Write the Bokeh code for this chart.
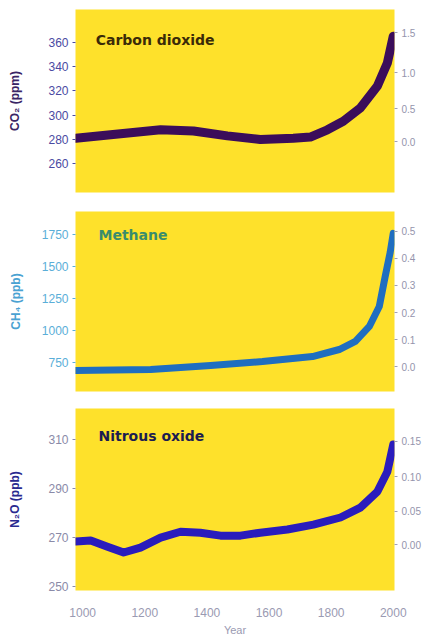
import math
from bokeh.plotting import figure
from bokeh.layouts import column
from bokeh.models import Range1d, LinearAxis, FixedTicker, CustomJSTickFormatter, Label
from bokeh.embed import file_html
from bokeh.resources import INLINE

# ---- data ----
years_co2 = [978, 1090, 1251, 1357, 1466, 1572, 1678, 1733, 1788, 1839, 1894, 1949, 1981, 2000]
co2_ppm = [281, 284, 288, 287, 283, 280, 281, 282, 288, 295, 306, 324, 343, 365]

years_ch4 = [978, 1219, 1412, 1579, 1740, 1826, 1878, 1923, 1955, 1974, 1990, 2000]
ch4_ppb = [689, 697, 728, 759, 798, 853, 916, 1033, 1189, 1423, 1611, 1760]

years_n2o = [978, 1026, 1080, 1132, 1186, 1251, 1315, 1379, 1444, 1508, 1572, 1659,
             1743, 1830, 1894, 1949, 1981, 2000]
n2o_ppb = [268.4, 268.8, 266.3, 263.9, 265.9, 270.0, 272.4, 272.0, 270.8, 270.8, 272.0,
           273.3, 275.3, 278.2, 282.2, 288.8, 296.9, 308.0]

year_ticks = [1000, 1200, 1400, 1600, 1800, 2000]
co2_ticks = [260, 280, 300, 320, 340, 360]
ch4_ticks = [750, 1000, 1250, 1500, 1750]
n2o_ticks = [250, 270, 290, 310]
co2_forcing_ticks = [0.0, 0.5, 1.0, 1.5]
ch4_forcing_ticks = [0.0, 0.1, 0.2, 0.3, 0.4, 0.5]
n2o_forcing_ticks = [0.0, 0.05, 0.10, 0.15]

panel_titles = ["Carbon dioxide", "Methane", "Nitrous oxide"]
axis_titles = ["CO\u2082 (ppm)", "CH\u2084 (ppb)", "N\u2082O (ppb)"]
x_title = "Year"

YELLOW = "#FEE12B"
FONT = "Liberation Sans"
X_RANGE = (977, 2004)


def make_panel(xs, ys, yrange, yticks, line_color, line_width, title, title_color,
               title_pos, axis_title, tick_color, title_axis_color, label_standoff,
               frame_h, b_top, b_bottom, right_ticks, right_code, bottom_axis=False):
    p = figure(width=None, height=None, frame_width=319, frame_height=frame_h,
               x_range=Range1d(*X_RANGE), y_range=Range1d(*yrange),
               output_backend="svg", toolbar_location=None,
               x_axis_location="below" if bottom_axis else None,
               min_border_left=75, min_border_right=26,
               min_border_top=b_top, min_border_bottom=b_bottom)
    p.background_fill_color = YELLOW
    p.border_fill_color = "white"
    p.outline_line_color = None
    p.grid.visible = False

    p.line(xs, ys, line_color=line_color, line_width=line_width,
           line_join="round", line_cap="round")

    ya = p.yaxis[0]
    ya.ticker = FixedTicker(ticks=yticks)
    ya.axis_line_color = None
    ya.major_tick_line_color = tick_color
    ya.major_tick_out = 3
    ya.major_tick_in = 0
    ya.minor_tick_line_color = None
    ya.major_label_standoff = 4
    ya.major_label_text_font = FONT
    ya.major_label_text_font_size = "12px"
    ya.major_label_text_color = tick_color
    ya.axis_label = axis_title
    ya.axis_label_text_font = FONT
    ya.axis_label_text_font_size = "12px"
    ya.axis_label_text_font_style = "bold"
    ya.axis_label_text_color = title_axis_color
    ya.axis_label_standoff = label_standoff

    ra = LinearAxis(ticker=FixedTicker(ticks=right_ticks),
                    formatter=CustomJSTickFormatter(code=right_code))
    ra.axis_line_color = None
    ra.major_tick_line_color = "#a0a0b8"
    ra.major_tick_out = 3
    ra.major_tick_in = 0
    ra.minor_tick_line_color = None
    ra.major_label_standoff = 4
    ra.major_label_text_font = FONT
    ra.major_label_text_font_size = "10px"
    ra.major_label_text_color = "#9494ac"
    p.add_layout(ra, "right")

    if bottom_axis:
        xa = p.xaxis[0]
        xa.ticker = FixedTicker(ticks=year_ticks)
        xa.axis_line_color = None
        xa.major_tick_line_color = None
        xa.major_tick_out = 0
        xa.major_tick_in = 0
        xa.minor_tick_line_color = None
        xa.major_label_standoff = 17
        xa.major_label_text_font = FONT
        xa.major_label_text_font_size = "12px"
        xa.major_label_text_color = "#9a9ab2"
        xa.axis_label = x_title
        xa.axis_label_text_font = FONT
        xa.axis_label_text_font_size = "11px"
        xa.axis_label_text_font_style = "normal"
        xa.axis_label_text_color = "#9a9ab2"
        xa.axis_label_standoff = 4

    p.add_layout(Label(x=title_pos[0], y=title_pos[1], text=title,
                       text_font="DejaVu Sans", text_font_size="14px",
                       text_font_style="bold", text_color=title_color,
                       text_baseline="middle", text_align="left"))
    return p


# right axes: radiative forcing (nonlinear in concentration)
co2_rt = [278 * math.exp(f / 5.35) for f in co2_forcing_ticks]
ch4_rt = [720 + 2110 * f for f in ch4_forcing_ticks]
n2o_rt = [(math.sqrt(267) + f / 0.12) ** 2 for f in n2o_forcing_ticks]

p1 = make_panel(years_co2, co2_ppm, (236.4, 387.0), co2_ticks, "#3b0d5a", 9,
                panel_titles[0], "#3a2a08", (1042, 362.3), axis_titles[0],
                "#4a4aa2", "#3a2566", 23, 183, 9, 9,
                co2_rt, "return (5.35*Math.log(tick/278)).toFixed(1);")
p2 = make_panel(years_ch4, ch4_ppb, (525, 1931), ch4_ticks, "#1f6ec0", 7,
                panel_titles[1], "#3a8c6c", (1051, 1744), axis_titles[1],
                "#5aaed8", "#4aa2d2", 16, 180, 10, 8,
                ch4_rt, "return ((tick-720)/2110).toFixed(1);")
p3 = make_panel(years_n2o, n2o_ppb, (248.4, 322.7), n2o_ticks, "#2a1cbc", 8,
                panel_titles[2], "#1c1c50", (1051, 311.6), axis_titles[2],
                "#8a8aa8", "#2a2a90", 23, 182, 9, 46,
                n2o_rt, "return (0.12*(Math.sqrt(tick)-Math.sqrt(267))).toFixed(2);",
                bottom_axis=True)

layout = column(p1, p2, p3, spacing=0)
open("out.html", "w").write(file_html(layout, INLINE))
